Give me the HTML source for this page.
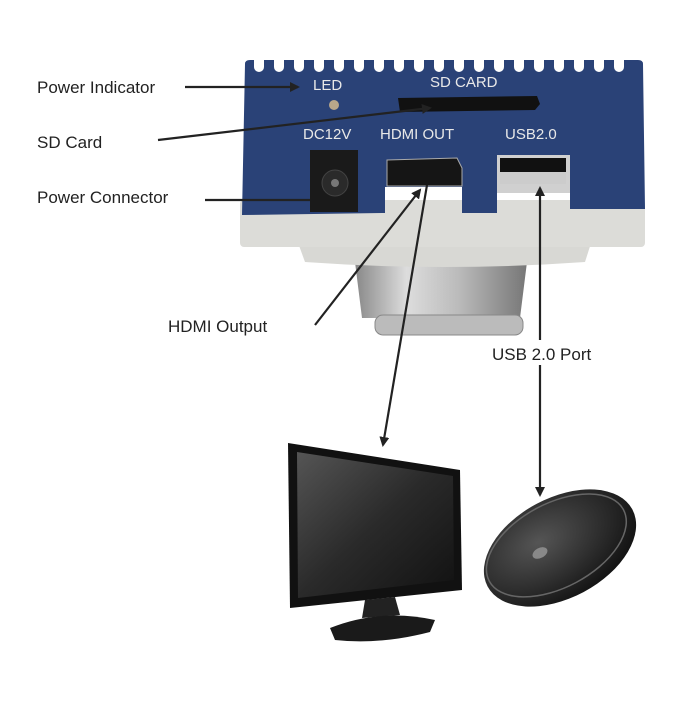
<!DOCTYPE html><html><head><style>
body{margin:0;background:#fff;width:700px;height:700px;overflow:hidden;font-family:"Liberation Sans",sans-serif}
</style></head><body>
<svg width="700" height="700" viewBox="0 0 700 700" xmlns="http://www.w3.org/2000/svg">
<defs>
<marker id="a" markerWidth="10" markerHeight="10" refX="8" refY="5" orient="auto" markerUnits="userSpaceOnUse"><path d="M0,0 L10,5 L0,10 z" fill="#222"/></marker>
<linearGradient id="lens" x1="0" x2="1"><stop offset="0" stop-color="#888"/><stop offset=".3" stop-color="#ddd"/><stop offset=".6" stop-color="#bbb"/><stop offset="1" stop-color="#777"/></linearGradient>
<linearGradient id="scr" x1="0" y1="0" x2="1" y2="1"><stop offset="0" stop-color="#555"/><stop offset=".5" stop-color="#2a2a2a"/><stop offset="1" stop-color="#111"/></linearGradient>
<radialGradient id="ms" cx=".4" cy=".35" r=".7"><stop offset="0" stop-color="#555"/><stop offset="1" stop-color="#111"/></radialGradient>
</defs>
<path d="M355,262 L527,262 L520,318 L362,318 Z" fill="url(#lens)"/>
<rect x="375" y="315" width="148" height="20" rx="8" fill="#bbb" stroke="#888"/>
<path d="M297,240 L592,240 L585,262 Q445,272 305,262 Z" fill="#d8d8d4"/>
<rect x="240" y="200" width="405" height="47" rx="4" fill="#dcdcd8"/>
<path d="M245,64 Q245,60 250,60 L638,60 Q643,60 643,64 L645,209 L570,209 L570,193 L497,193 L497,213 L462,213 L462,187 L385,187 L385,213 L242,215 Z" fill="#2a4277"/>
<g fill="#fff">
<rect x="254" y="52" width="10" height="20" rx="5"/><rect x="274" y="52" width="10" height="20" rx="5"/><rect x="294" y="52" width="10" height="20" rx="5"/><rect x="314" y="52" width="10" height="20" rx="5"/><rect x="334" y="52" width="10" height="20" rx="5"/><rect x="354" y="52" width="10" height="20" rx="5"/><rect x="374" y="52" width="10" height="20" rx="5"/><rect x="394" y="52" width="10" height="20" rx="5"/><rect x="414" y="52" width="10" height="20" rx="5"/><rect x="434" y="52" width="10" height="20" rx="5"/><rect x="454" y="52" width="10" height="20" rx="5"/><rect x="474" y="52" width="10" height="20" rx="5"/><rect x="494" y="52" width="10" height="20" rx="5"/><rect x="514" y="52" width="10" height="20" rx="5"/><rect x="534" y="52" width="10" height="20" rx="5"/><rect x="554" y="52" width="10" height="20" rx="5"/><rect x="574" y="52" width="10" height="20" rx="5"/><rect x="594" y="52" width="10" height="20" rx="5"/><rect x="614" y="52" width="10" height="20" rx="5"/>
</g>
<g fill="#e8e8e8" font-size="15">
<text x="313" y="90">LED</text><text x="430" y="87">SD CARD</text>
<text x="303" y="139">DC12V</text><text x="380" y="139">HDMI OUT</text><text x="505" y="139">USB2.0</text>
</g>
<circle cx="334" cy="105" r="5" fill="#b9a78a"/>
<path d="M398,98 L537,96 L540,104 L535,110 L400,112 Z" fill="#111"/>
<rect x="310" y="150" width="48" height="62" fill="#1a1a1a"/><circle cx="335" cy="183" r="13" fill="#2a2a2a" stroke="#444"/><circle cx="335" cy="183" r="4" fill="#777"/>
<path d="M387,160 L457,158 L462,168 L462,186 L387,186 Z" fill="#151515" stroke="#aaa"/>
<rect x="497" y="155" width="73" height="38" fill="#d0d0d0"/><rect x="500" y="158" width="66" height="14" fill="#111"/><rect x="500" y="172" width="66" height="12" fill="#ccc"/>
<g font-size="17" fill="#222">
<text x="37" y="93">Power Indicator</text><text x="37" y="148">SD Card</text><text x="37" y="203">Power Connector</text>
<text x="168" y="332">HDMI Output</text><text x="492" y="360">USB 2.0 Port</text>
</g>
<g stroke="#222" stroke-width="2.2" fill="none">
<line x1="185" y1="87" x2="298" y2="87" marker-end="url(#a)"/>
<line x1="158" y1="140" x2="430" y2="108" marker-end="url(#a)"/>
<line x1="205" y1="200" x2="310" y2="200"/>
<line x1="315" y1="325" x2="420" y2="190" marker-end="url(#a)"/>
<line x1="427" y1="185" x2="383" y2="445" marker-end="url(#a)"/>
<line x1="540" y1="340" x2="540" y2="188" marker-end="url(#a)"/>
<line x1="540" y1="365" x2="540" y2="495" marker-end="url(#a)"/>
</g>
<path d="M288,443 L460,470 L462,590 L290,608 Z" fill="#111"/>
<path d="M297,452 L453,476 L454,580 L298,598 Z" fill="url(#scr)"/>
<path d="M365,600 L395,597 L400,615 L362,618 Z" fill="#222"/>
<path d="M330,628 Q380,608 435,620 L430,632 Q380,645 335,640 Z" fill="#1a1a1a"/>
<g transform="rotate(-28 560 548)">
<ellipse cx="560" cy="548" rx="82" ry="50" fill="url(#ms)"/>
<ellipse cx="558" cy="544" rx="76" ry="42" fill="none" stroke="#666" stroke-width="1.5"/>
<ellipse cx="540" cy="543" rx="8" ry="5" fill="#888"/>
</g>
</svg>
</body></html>
